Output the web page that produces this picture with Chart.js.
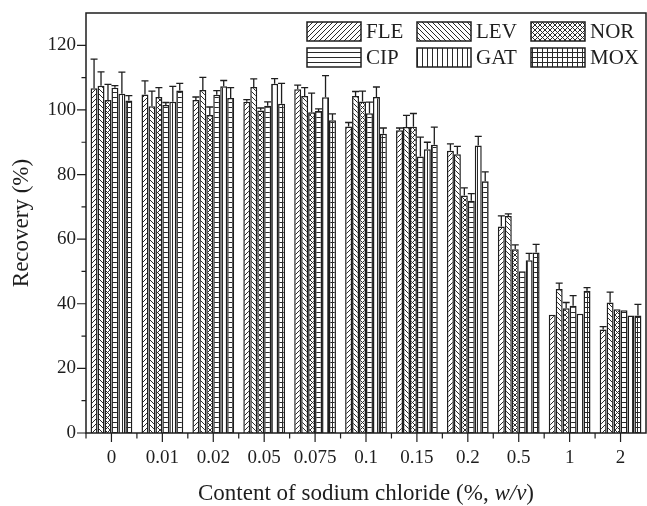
<!DOCTYPE html>
<html>
<head>
<meta charset="utf-8">
<script src="https://cdn.jsdelivr.net/npm/chart.js@4.4.1/dist/chart.umd.min.js"></script>
<style>
  html, body { margin: 0; padding: 0; background: #fff; }
</style>
</head>
<body>
<canvas id="barChart" width="647" height="506"></canvas>
<script>
// Datos (Recovery %, con error superior)
const categories = ['0', '0.01', '0.02', '0.05', '0.075', '0.1', '0.15', '0.2', '0.5', '1', '2'];
const seriesNames = ['FLE', 'LEV', 'NOR', 'CIP', 'GAT', 'MOX'];

const fle = [106.7, 104.8, 103.1, 102.5, 106.4, 94.9, 93.7, 87.4, 63.9, 36.6, 32.0];
const lev = [107.5, 101.1, 106.2, 107.1, 104.3, 104.3, 94.7, 86.3, 67.2, 44.6, 40.4];
const nor = [103.1, 104.0, 98.4, 99.8, 99.3, 102.6, 94.8, 73.5, 56.9, 38.6, 38.3];
const cip = [106.9, 101.5, 104.7, 101.3, 99.7, 99.0, 85.6, 71.9, 50.1, 39.4, 38.0];
const gat = [105.0, 102.5, 107.3, 108.1, 103.9, 104.0, 87.8, 89.0, 53.5, 36.9, 36.4];
const mox = [102.9, 106.0, 103.7, 101.9, 96.8, 92.6, 89.2, 77.9, 55.9, 44.0, 36.4];

const fleErr = [9.0, 4.2, 0.9, 0.7, 1.3, 1.2, 0.7, 2.1, 3.3, 0, 0.9];
const levErr = [4.3, 4.7, 3.9, 2.5, 2.6, 1.4, 3.6, 2.4, 0.6, 1.8, 3.2];
const norErr = [4.8, 2.9, 2.5, 0.8, 5.9, 3.2, 4.1, 2.4, 1.3, 1.8, 0];
const cipErr = [0.6, 0.8, 1.3, 1.2, 0.6, 3.4, 6.0, 2.2, 0, 3.1, 0];
const gatErr = [6.7, 4.8, 1.8, 1.6, 6.7, 3.1, 2.2, 2.8, 2.1, 0, 0];
const moxErr = [1.5, 2.2, 3.2, 6.3, 2.0, 1.8, 5.5, 2.9, 2.5, 1.0, 3.4];

const yMajorTicks = [0, 20, 40, 60, 80, 100, 120];

const serif = "'Liberation Serif', 'Times New Roman', serif";
const ink = '#1e1e1e';

// Tramas de relleno
function hatch(kind) {
    const s = 5;
    const c = document.createElement('canvas');
    c.width = s; c.height = s;
    const g = c.getContext('2d');
    g.fillStyle = '#fff';
    g.fillRect(0, 0, s, s);
    g.strokeStyle = '#2a2a2a';
    g.lineWidth = 1;
    g.beginPath();
    if (kind === 'fwd' || kind === 'cross') {
        g.moveTo(0, s); g.lineTo(s, 0);
        g.moveTo(-1, 1); g.lineTo(1, -1);
        g.moveTo(s - 1, s + 1); g.lineTo(s + 1, s - 1);
    }
    if (kind === 'back' || kind === 'cross') {
        g.moveTo(0, 0); g.lineTo(s, s);
        g.moveTo(-1, s - 1); g.lineTo(1, s + 1);
        g.moveTo(s - 1, -1); g.lineTo(s + 1, 1);
    }
    if (kind === 'horiz' || kind === 'grid') {
        g.moveTo(0, 2.5); g.lineTo(s, 2.5);
    }
    if (kind === 'vert' || kind === 'grid') {
        g.moveTo(2.5, 0); g.lineTo(2.5, s);
    }
    g.stroke();
    return g.createPattern(c, 'repeat');
}

const patterns = [hatch('fwd'), hatch('back'), hatch('cross'), hatch('horiz'), hatch('vert'), hatch('grid')];
const values = [fle, lev, nor, cip, gat, mox];
const errors = [fleErr, levErr, norErr, cipErr, gatErr, moxErr];

const errorBars = {
    id: 'errorBars',
    afterDatasetsDraw(chart) {
        const ctx = chart.ctx;
        const y = chart.scales.y;
        ctx.save();
        ctx.strokeStyle = ink;
        ctx.lineWidth = 1.3;
        chart.data.datasets.forEach((ds, i) => {
            const meta = chart.getDatasetMeta(i);
            meta.data.forEach((bar, j) => {
                const e = errors[i][j];
                if (!e) return;
                const top = y.getPixelForValue(ds.data[j] + e);
                ctx.beginPath();
                ctx.moveTo(bar.x, bar.y);
                ctx.lineTo(bar.x, top);
                ctx.moveTo(bar.x - 3.5, top);
                ctx.lineTo(bar.x + 3.5, top);
                ctx.stroke();
            });
        });
        ctx.restore();
    }
};

const frameAndTicks = {
    id: 'frameAndTicks',
    afterDraw(chart) {
        const ctx = chart.ctx;
        const a = chart.chartArea;
        const x = chart.scales.x;
        const y = chart.scales.y;
        ctx.save();
        ctx.strokeStyle = ink;
        ctx.lineWidth = 1.5;
        ctx.strokeRect(a.left, a.top, a.right - a.left, a.bottom - a.top);

        ctx.lineWidth = 1.2;
        ctx.beginPath();
        for (let v = 0; v < y.max; v += 10) {
            const py = y.getPixelForValue(v);
            const len = v % 20 === 0 ? 9 : 4.5;
            ctx.moveTo(a.left - len, py);
            ctx.lineTo(a.left, py);
        }
        const step = (a.right - a.left) / categories.length;
        categories.forEach((c, i) => {
            const px = x.getPixelForValue(i);
            ctx.moveTo(px, a.bottom);
            ctx.lineTo(px, a.bottom + 9);
            ctx.moveTo(a.left + i * step, a.bottom);
            ctx.lineTo(a.left + i * step, a.bottom + 5.5);
        });
        ctx.stroke();

        // Leyenda en dos filas
        ctx.font = '21px ' + serif;
        ctx.fillStyle = ink;
        ctx.textBaseline = 'middle';
        const cols = [307, 417, 531];
        const rows = [22, 48];
        seriesNames.forEach((name, i) => {
            const bx = cols[i % 3];
            const by = rows[Math.floor(i / 3)];
            ctx.fillStyle = patterns[i];
            ctx.fillRect(bx, by, 54, 19);
            ctx.lineWidth = 1.5;
            ctx.strokeRect(bx, by, 54, 19);
            ctx.fillStyle = ink;
            ctx.fillText(name, bx + 59, by + 10);
        });

        // Titulo del eje x con w/v en cursiva
        const parts = [['Content of sodium chloride (%, ', ''], ['w/v', 'italic '], [')', '']];
        let total = 0;
        parts.forEach(p => { ctx.font = p[1] + '23px ' + serif; total += ctx.measureText(p[0]).width; });
        let tx = (a.left + a.right) / 2 - total / 2;
        ctx.textBaseline = 'alphabetic';
        parts.forEach(p => {
            ctx.font = p[1] + '23px ' + serif;
            ctx.fillText(p[0], tx, 500);
            tx += ctx.measureText(p[0]).width;
        });
        ctx.restore();
    }
};

const ctxBar = document.getElementById('barChart').getContext('2d');
const barChart = new Chart(ctxBar, {
    type: 'bar',
    data: {
        labels: categories,
        datasets: seriesNames.map((name, i) => ({
            label: name,
            data: values[i],
            backgroundColor: patterns[i],
            borderColor: ink,
            borderWidth: 1.5,
            borderSkipped: 'bottom',
            barPercentage: 1,
            categoryPercentage: 0.82
        }))
    },
    options: {
        responsive: false,
        animation: false,
        devicePixelRatio: 1,
        layout: { padding: { top: 13, right: 1, left: 0, bottom: 0 } },
        scales: {
            x: {
                grid: { display: false, drawTicks: false },
                border: { display: false },
                ticks: {
                    color: ink,
                    padding: 14,
                    maxRotation: 0,
                    autoSkip: false,
                    font: { family: serif, size: 19 }
                },
                afterFit: function (scale) {
                    scale.height = 73;
                    scale.paddingLeft = 0;
                    scale.paddingRight = 0;
                }
            },
            y: {
                min: 0,
                max: 130,
                grid: { display: false, drawTicks: false },
                border: { display: false },
                title: {
                    display: true,
                    text: 'Recovery (%)',
                    color: ink,
                    padding: { top: 8, bottom: 0 },
                    font: { family: serif, size: 23 }
                },
                ticks: {
                    stepSize: 10,
                    color: ink,
                    padding: 10,
                    font: { family: serif, size: 19 },
                    callback: function (value) {
                        return yMajorTicks.includes(value) ? value : '';
                    }
                },
                afterFit: function (scale) {
                    scale.width = 86;
                    scale.paddingTop = 0;
                    scale.paddingBottom = 0;
                }
            }
        },
        plugins: {
            legend: { display: false },
            tooltip: { enabled: false }
        }
    },
    plugins: [errorBars, frameAndTicks]
});
</script>
</body>
</html>
